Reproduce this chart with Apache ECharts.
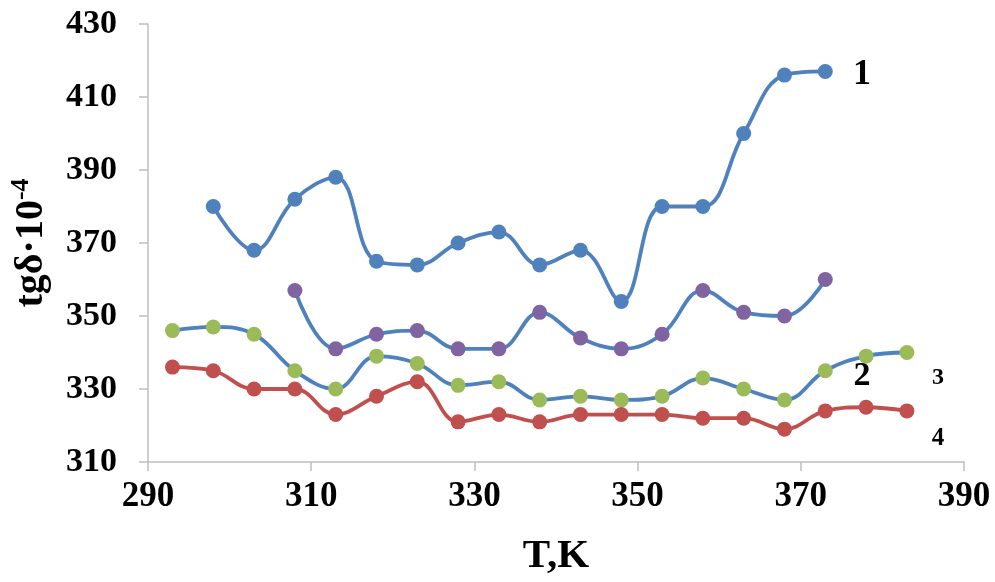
<!DOCTYPE html>
<html>
<head>
<meta charset="utf-8">
<script src="https://cdn.jsdelivr.net/npm/echarts@6/dist/echarts.min.js"></script>
<style>html,body{margin:0;padding:0;background:#fff}#c{width:995px;height:582px}</style>
</head>
<body>
<div id="c"></div>
<script>
const temps1 = [298,303,308,313,318,323,328,333,338,343,348,353,358,363,368,373];
const vals1  = [380,368,382,388,365,364,370,373,364,368,354,380,380,400,416,417];
const temps2 = [308,313,318,323,328,333,338,343,348,353,358,363,368,373];
const vals2  = [357,341,345,346,341,341,351,344,341,345,357,351,350,360];
const temps3 = [293,298,303,308,313,318,323,328,333,338,343,348,353,358,363,368,373,378,383];
const vals3  = [346,347,345,335,330,339,337,331,332,327,328,327,328,333,330,327,335,339,340];
const temps4 = [293,298,303,308,313,318,323,328,333,338,343,348,353,358,363,368,373,378,383];
const vals4  = [336,335,330,330,323,328,332,321,323,321,323,323,323,322,322,319,324,325,324];
const curveLabels = [
  {text:'1', x:377.5, y:416,   size:36},
  {text:'2', x:377.5, y:333.6, size:34},
  {text:'3', x:386.8, y:333.2, size:24},
  {text:'4', x:386.8, y:316.3, size:25}
];

const FONT = '"Liberation Serif", "Times New Roman", serif';
const BLUE = '#4f81bd';
function pairs(xs, ys){ return xs.map((x,i)=>[x, ys[i]]); }
function mkSeries(xs, ys, lineColor, markerColor){
  return {
    type:'line', data: pairs(xs, ys), smooth:0.4,
    symbol:'circle', symbolSize:15,
    lineStyle:{color:lineColor, width:3.8},
    itemStyle:{color:markerColor, borderWidth:0},
    z: 2
  };
}
const chart = echarts.init(document.getElementById('c'), null, {renderer:'canvas'});
const axisCommon = {
  axisLine:{show:true, lineStyle:{color:'#bfbfbf', width:1.5}},
  axisTick:{show:true, inside:false, length:9, lineStyle:{color:'#bfbfbf', width:1.5}},
  splitLine:{show:false}
};
chart.setOption({
  animation:false,
  backgroundColor:'#fff',
  grid:{left:148, right:31, top:24, bottom:118, containLabel:false},
  xAxis:Object.assign({
    type:'value', min:290, max:390, interval:20,
    name:'T,K', nameLocation:'middle', nameGap:74,
    nameTextStyle:{fontFamily:FONT, fontWeight:'bold', fontSize:41, color:'#000'},
    axisLabel:{fontFamily:FONT, fontWeight:'bold', fontSize:35, color:'#000', margin:17}
  }, axisCommon),
  yAxis:Object.assign({
    type:'value', min:310, max:430, interval:20,
    name:'{a|tgδ·10}{b|-4}', nameLocation:'middle', nameGap:96, nameRotate:90,
    nameTextStyle:{
      color:'#000',
      rich:{
        a:{fontFamily:FONT, fontWeight:'bold', fontSize:40, color:'#000', lineHeight:44, verticalAlign:'bottom'},
        b:{fontFamily:FONT, fontWeight:'bold', fontSize:26, color:'#000', lineHeight:44, verticalAlign:'top', padding:[0,0,14,0]}
      }
    },
    axisLabel:{fontFamily:FONT, fontWeight:'bold', fontSize:34, color:'#000', margin:31}
  }, axisCommon),
  series:[
    mkSeries(temps1, vals1, BLUE, BLUE),
    mkSeries(temps2, vals2, BLUE, '#8064a2'),
    mkSeries(temps3, vals3, BLUE, '#9bbb59'),
    mkSeries(temps4, vals4, '#c0504d', '#c0504d')
  ]
});
const gfx = curveLabels.map(l=>{
  const p = chart.convertToPixel({gridIndex:0}, [l.x, l.y]);
  return {type:'text', x:p[0], y:p[1], z:10,
    style:{text:l.text, fontFamily:FONT, fontWeight:'bold', fontSize:l.size, fill:'#000', align:'center', verticalAlign:'middle'}};
});
chart.setOption({graphic:gfx});
</script>
</body>
</html>
